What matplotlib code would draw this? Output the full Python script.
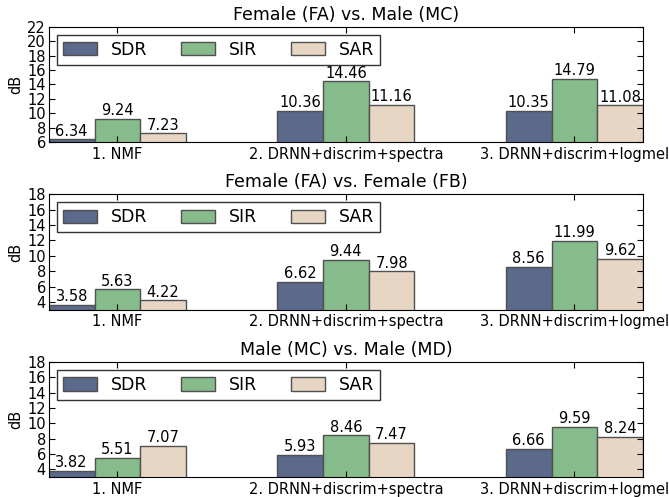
import numpy as np
import matplotlib
matplotlib.use("Agg")
import matplotlib.pyplot as plt

methods = ["1. NMF", "2. DRNN+discrim+spectra", "3. DRNN+discrim+logmel"]
metrics = ["SDR", "SIR", "SAR"]
titles = ["Female (FA) vs. Male (MC)", "Female (FA) vs. Female (FB)", "Male (MC) vs. Male (MD)"]

# values per panel: rows = SDR, SIR, SAR
fa_mc = [[6.34, 10.36, 10.35], [9.24, 14.46, 14.79], [7.23, 11.16, 11.08]]
fa_fb = [[3.58, 6.62, 8.56], [5.63, 9.44, 11.99], [4.22, 7.98, 9.62]]
mc_md = [[3.82, 5.93, 6.66], [5.51, 8.46, 9.59], [7.07, 7.47, 8.24]]
panels = [fa_mc, fa_fb, mc_md]
ylims = [(6, 22), (3, 18), (3, 18)]

colors = ["#5b6a8b", "#86bb8c", "#e8d6c4"]
width = 0.2
ind = np.arange(len(methods))

fig, axes = plt.subplots(3, 1, figsize=(6.69, 4.97), dpi=100)
fig.subplots_adjust(left=0.073, right=0.961, top=0.946, bottom=0.040, hspace=0.456)

for ax, data, title, yl in zip(axes, panels, titles, ylims):
    for k, (vals, c, name) in enumerate(zip(data, colors, metrics)):
        bars = ax.bar(ind + k * width, vals, width, align="edge", color=c,
                      edgecolor="#505050", linewidth=1.0, label=name, bottom=0)
        for b, v in zip(bars, vals):
            ax.text(b.get_x() + b.get_width() / 2, v + 0.08, "%.2f" % v,
                    ha="center", va="bottom", fontsize=10.5)
    ax.set_xlim(0, 2.6)
    ax.set_ylim(*yl)
    ax.set_yticks(np.arange(yl[0] + (yl[0] % 2), yl[1] + 1, 2))
    ax.set_xticks(ind + 1.5 * width)
    ax.set_xticklabels(methods, fontsize=10.5)
    ax.tick_params(axis="y", labelsize=10.5, pad=2)
    ax.tick_params(direction="in", top=True, right=True, length=4)
    ax.set_ylabel("dB", fontsize=10.5, labelpad=3)
    ax.set_title(title, fontsize=12.5, pad=5)
    ax.legend(loc="upper left", ncol=3, fontsize=12.5, frameon=True, fancybox=False,
              edgecolor="black", handlelength=1.95, columnspacing=1.95,
              borderaxespad=0.45, borderpad=0.35, handleheight=0.8)

fig.savefig("out.png", dpi=100)
